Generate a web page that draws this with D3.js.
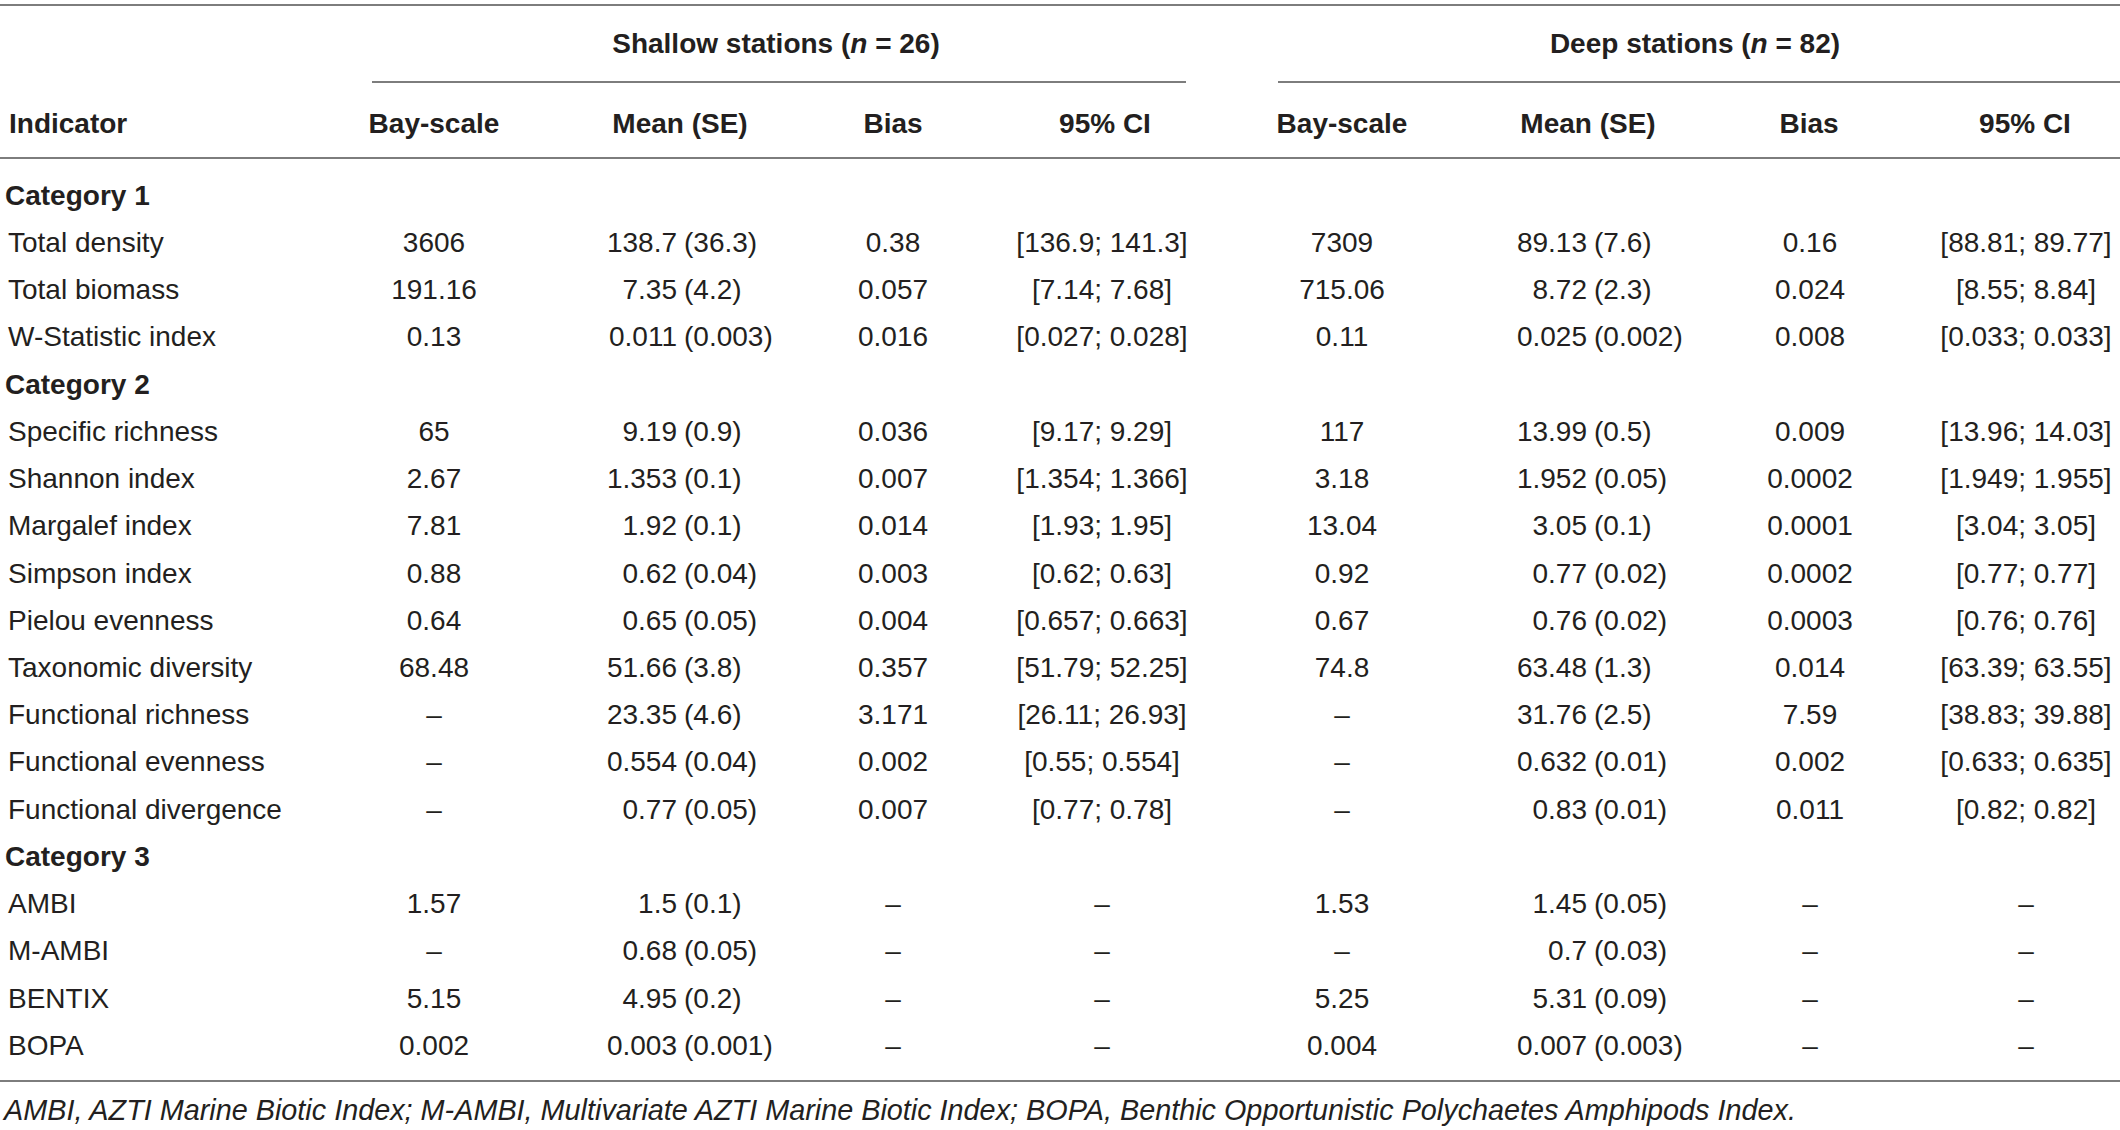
<!DOCTYPE html>
<html>
<head>
<meta charset="utf-8">
<script src="https://cdn.jsdelivr.net/npm/d3@7"></script>
<style>
  body { margin: 0; background: #fff; }
  text { font-family: "Liberation Sans", Arial, Helvetica, sans-serif; fill: #231f20; }
</style>
</head>
<body>
<div id="table"></div>
<script>
// table contents
const categories = ["Category 1", "Category 2", "Category 3"];
const categorySize = [3, 9, 4];
const indicators = ["Total density", "Total biomass", "W-Statistic index",
    "Specific richness", "Shannon index", "Margalef index", "Simpson index", "Pielou evenness",
    "Taxonomic diversity", "Functional richness", "Functional evenness", "Functional divergence",
    "AMBI", "M-AMBI", "BENTIX", "BOPA"];

const shallowBay = ["3606", "191.16", "0.13", "65", "2.67", "7.81", "0.88", "0.64", "68.48", "–", "–", "–", "1.57", "–", "5.15", "0.002"];
const shallowMean = ["138.7", "7.35", "0.011", "9.19", "1.353", "1.92", "0.62", "0.65", "51.66", "23.35", "0.554", "0.77", "1.5", "0.68", "4.95", "0.003"];
const shallowSE = ["36.3", "4.2", "0.003", "0.9", "0.1", "0.1", "0.04", "0.05", "3.8", "4.6", "0.04", "0.05", "0.1", "0.05", "0.2", "0.001"];
const shallowBias = ["0.38", "0.057", "0.016", "0.036", "0.007", "0.014", "0.003", "0.004", "0.357", "3.171", "0.002", "0.007", "–", "–", "–", "–"];
const shallowCI = ["[136.9; 141.3]", "[7.14; 7.68]", "[0.027; 0.028]", "[9.17; 9.29]", "[1.354; 1.366]", "[1.93; 1.95]", "[0.62; 0.63]", "[0.657; 0.663]", "[51.79; 52.25]", "[26.11; 26.93]", "[0.55; 0.554]", "[0.77; 0.78]", "–", "–", "–", "–"];

const deepBay = ["7309", "715.06", "0.11", "117", "3.18", "13.04", "0.92", "0.67", "74.8", "–", "–", "–", "1.53", "–", "5.25", "0.004"];
const deepMean = ["89.13", "8.72", "0.025", "13.99", "1.952", "3.05", "0.77", "0.76", "63.48", "31.76", "0.632", "0.83", "1.45", "0.7", "5.31", "0.007"];
const deepSE = ["7.6", "2.3", "0.002", "0.5", "0.05", "0.1", "0.02", "0.02", "1.3", "2.5", "0.01", "0.01", "0.05", "0.03", "0.09", "0.003"];
const deepBias = ["0.16", "0.024", "0.008", "0.009", "0.0002", "0.0001", "0.0002", "0.0003", "0.014", "7.59", "0.002", "0.011", "–", "–", "–", "–"];
const deepCI = ["[88.81; 89.77]", "[8.55; 8.84]", "[0.033; 0.033]", "[13.96; 14.03]", "[1.949; 1.955]", "[3.04; 3.05]", "[0.77; 0.77]", "[0.76; 0.76]", "[63.39; 63.55]", "[38.83; 39.88]", "[0.633; 0.635]", "[0.82; 0.82]", "–", "–", "–", "–"];

const columnHeads = ["Bay-scale", "Mean (SE)", "Bias", "95% CI"];
const footnote = "AMBI, AZTI Marine Biotic Index; M-AMBI, Multivariate AZTI Marine Biotic Index; BOPA, Benthic Opportunistic Polychaetes Amphipods Index.";

// layout
const width = 2120, height = 1130;
const fs = 28;
const line = "#7d7d7d";

// build rows: category rows followed by their indicators
const rows = [];
let k = 0;
categories.forEach((c, ci) => {
    rows.push({ type: "cat", label: c });
    for (let j = 0; j < categorySize[ci]; j++, k++) {
        rows.push({ type: "ind", label: indicators[k], i: k });
    }
});

const groups = [
    { title: "Shallow stations", n: 26, bay: shallowBay, mean: shallowMean, se: shallowSE, bias: shallowBias, ci: shallowCI,
      x: { bay: 434, paren: 684, head: [434, 680, 893, 1105], bias: 893, ci: 1102 }, span: [372, 1186], titleX: 776 },
    { title: "Deep stations", n: 82, bay: deepBay, mean: deepMean, se: deepSE, bias: deepBias, ci: deepCI,
      x: { bay: 1342, paren: 1594, head: [1342, 1588, 1809, 2025], bias: 1810, ci: 2026 }, span: [1278, 2120], titleX: 1695 }
];

const y = d3.scalePoint()
    .domain(d3.range(rows.length))
    .range([195, 1045]);

const svg = d3.select("#table")
    .append("svg")
    .attr("width", width)
    .attr("height", height);

// rules
function rule(x1, x2, yy) {
    svg.append("line")
        .attr("x1", x1).attr("x2", x2)
        .attr("y1", yy).attr("y2", yy)
        .attr("stroke", line)
        .attr("stroke-width", 2);
}
rule(0, width, 5);
groups.forEach(g => rule(g.span[0], g.span[1], 82));
rule(0, width, 158);
rule(0, width, 1081);

// group titles
groups.forEach(g => {
    const t = svg.append("text")
        .attr("x", g.titleX)
        .attr("y", 43)
        .attr("dy", "0.35em")
        .attr("text-anchor", "middle")
        .attr("font-size", fs)
        .attr("font-weight", "bold");
    t.append("tspan").text(`${g.title} (`);
    t.append("tspan").attr("font-style", "italic").text("n");
    t.append("tspan").text(` = ${g.n})`);
});

// column headers
svg.append("text")
    .attr("x", 9).attr("y", 123).attr("dy", "0.35em")
    .attr("font-size", fs).attr("font-weight", "bold")
    .text("Indicator");

groups.forEach(g => {
    svg.selectAll(null)
        .data(columnHeads)
        .enter()
        .append("text")
        .attr("x", (d, i) => g.x.head[i])
        .attr("y", 123)
        .attr("dy", "0.35em")
        .attr("text-anchor", "middle")
        .attr("font-size", fs)
        .attr("font-weight", "bold")
        .text(d => d);
});

// row labels
svg.selectAll(".rowlabel")
    .data(rows)
    .enter()
    .append("text")
    .attr("class", "rowlabel")
    .attr("x", d => d.type === "cat" ? 5 : 8)
    .attr("y", (d, i) => y(i))
    .attr("dy", "0.35em")
    .attr("font-size", fs)
    .attr("font-weight", d => d.type === "cat" ? "bold" : "normal")
    .text(d => d.label);

// cells
const indRows = rows.map((r, ri) => ({ ...r, ri })).filter(r => r.type === "ind");

function cell(x, yy, txt, anchor) {
    svg.append("text")
        .attr("x", x)
        .attr("y", yy)
        .attr("dy", "0.35em")
        .attr("text-anchor", anchor)
        .attr("font-size", fs)
        .text(txt);
}

groups.forEach(g => {
    indRows.forEach(r => {
        const yy = y(r.ri);
        cell(g.x.bay, yy, g.bay[r.i], "middle");
        // mean aligned on the opening parenthesis of SE
        cell(g.x.paren - 7, yy, g.mean[r.i], "end");
        cell(g.x.paren, yy, `(${g.se[r.i]})`, "start");
        cell(g.x.bias, yy, g.bias[r.i], "middle");
        cell(g.x.ci, yy, g.ci[r.i], "middle");
    });
});

// footnote
svg.append("text")
    .attr("x", 4)
    .attr("y", 1110)
    .attr("dy", "0.35em")
    .attr("font-size", 28.8)
    .attr("font-style", "italic")
    .text(footnote);
</script>
</body>
</html>
